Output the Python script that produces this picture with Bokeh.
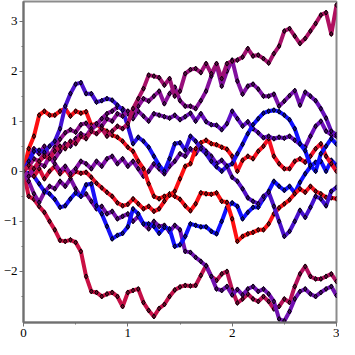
from bokeh.plotting import figure
from bokeh.models import Range1d, FixedTicker
from bokeh.embed import file_html
from bokeh.resources import INLINE

# ---- data ----
T = [0.0, 0.05, 0.1, 0.15, 0.2, 0.25, 0.3, 0.35, 0.4, 0.45,
     0.5, 0.55, 0.6, 0.65, 0.7, 0.75, 0.8, 0.85, 0.9, 0.95,
     1.0, 1.05, 1.1, 1.15, 1.2, 1.25, 1.3, 1.35, 1.4, 1.45,
     1.5, 1.55, 1.6, 1.65, 1.7, 1.75, 1.8, 1.85, 1.9, 1.95,
     2.0, 2.05, 2.1, 2.15, 2.2, 2.25, 2.3, 2.35, 2.4, 2.45,
     2.5, 2.55, 2.6, 2.65, 2.7, 2.75, 2.8, 2.85, 2.9, 2.95, 3.0]

PATH_A = [0, 0.12, 0.05, 0.2, 0.3, 0.25, 0.4, 0.5, 0.45, 0.6,
          0.55, 0.7, 0.65, 0.8, 0.75, 0.85, 0.7, 0.8, 0.9, 0.85,
          0.95, 1.25, 1.45, 1.65, 1.92, 1.9, 1.87, 1.72, 1.85, 1.5,
          1.6, 1.95, 2.03, 2.05, 1.97, 2.15, 1.95, 2.15, 1.85, 2.15,
          2.2, 2.22, 2.28, 2.45, 2.3, 2.32, 2.25, 2.16, 2.35, 2.5,
          2.8, 2.85, 2.7, 2.55, 2.65, 2.8, 2.95, 3.12, 3.17, 2.74, 3.32]
PATH_B = [0, -0.1, 0.05, 0.15, 0.1, 0.3, 0.25, 0.4, 0.55, 0.5,
          0.65, 0.75, 0.7, 0.85, 0.95, 0.9, 1.05, 1.0, 1.15, 1.1,
          1.2, 1.15, 1.3, 1.45, 1.4, 1.5, 1.6, 1.35, 1.55, 1.68,
          1.41, 1.3, 1.3, 1.25, 1.41, 1.6, 1.9, 2.13, 1.7, 2.0,
          2.22, 1.8, 1.54, 1.7, 1.74, 1.64, 1.5, 1.5, 1.54, 1.3,
          1.4, 1.51, 1.61, 1.32, 1.58, 1.5, 1.41, 1.25, 1.06, 0.8, 0.73]
PATH_D = [0, 0.1, 0.25, 0.2, 0.35, 0.3, 0.48, 0.64, 0.77, 0.83,
          0.78, 0.93, 0.96, 0.83, 0.93, 1.05, 1.15, 1.2, 1.28, 1.25,
          1.15, 1.05, 1.2, 1.1, 1.0, 1.15, 1.12, 1.09, 1.06, 1.12,
          1.03, 1.09, 1.16, 1.0, 1.15, 0.99, 0.93, 0.92, 0.83, 0.95,
          1.2, 1.05, 0.9, 0.99, 0.85, 0.77, 0.67, 0.7, 0.65, 0.68,
          0.66, 0.7, 0.62, 0.54, 0.48, 0.7, 0.9, 1.0, 0.8, 0.73, 0.7]
PATH_C = [0, 0.2, 0.4, 0.42, 0.38, 0.5, 0.6, 0.85, 1.3, 1.55,
          1.74, 1.77, 1.55, 1.55, 1.38, 1.41, 1.45, 1.42, 1.32, 1.22,
          0.9, 0.55, 0.68, 0.6, 0.48, 0.3, 0.12, 0.0, 0.25, 0.55,
          0.57, 0.42, 0.7, 0.6, 0.45, 0.35, 0.2, 0.09, 0.0, 0.1,
          0.15, 0.35, 0.54, 0.75, 0.93, 1.05, 1.16, 1.2, 1.22, 1.19,
          1.12, 1.03, 0.85, 0.55, 0.41, 0.12, 0.0, 0.35, 0.5, 0.65, 0.54]
PATH_R = [0, 0.45, 0.7, 1.12, 1.2, 1.12, 1.12, 1.2, 1.25, 1.1,
          1.2, 1.16, 1.19, 0.92, 0.95, 0.85, 0.8, 0.72, 0.68, 0.6,
          0.48, 0.4, 0.2, 0.05, -0.25, -0.5, -0.55, -0.5, -0.48, -0.4,
          -0.15, 0.1, 0.15, 0.45, 0.57, 0.62, 0.55, 0.53, 0.48, 0.44,
          0.3, 0.0, 0.22, 0.3, 0.25, 0.4, 0.5, 0.65, 0.3, 0.15,
          0.05, 0.05, 0.2, 0.25, 0.18, 0.3, 0.45, 0.55, 0.3, 0.15, 0.0]
PATH_G = [0, -0.05, -0.1, -0.25, -0.4, -0.45, -0.56, -0.72, -0.69, -0.55,
          -0.43, -0.5, -0.27, -0.25, -0.69, -0.85, -1.1, -1.35, -1.28, -1.24,
          -1.11, -0.75, -0.85, -1.05, -1.05, -1.1, -1.24, -1.12, -1.15, -1.5,
          -1.47, -1.3, -1.05, -1.08, -1.11, -1.11, -1.2, -1.25, -1.0, -0.72,
          -0.63, -0.7, -0.95, -0.82, -0.72, -0.72, -0.55, -0.4, -0.2, -0.3,
          -0.38, -0.3, -0.43, -0.22, -0.05, 0.09, 0.18, 0.2, 0.0, 0.22, 0.12]
PATH_H = [0, 0.3, 0.45, 0.35, 0.5, 0.3, 0.15, 0.0, 0.1, -0.05,
          0.05, 0.2, 0.15, 0.05, 0.2, 0.1, 0.25, 0.3, 0.15, 0.25,
          0.1, 0.2, 0.05, -0.1, 0.0, 0.15, 0.05, -0.05, 0.1, 0.2,
          0.35, 0.3, 0.45, 0.35, 0.5, 0.4, 0.3, 0.15, 0.22, 0.1,
          -0.12, -0.2, -0.35, -0.53, -0.6, -0.65, -0.5, -0.42, -0.7, -1.0,
          -1.3, -1.2, -1.0, -0.78, -0.92, -0.72, -0.5, -0.55, -0.69, -0.4, -0.32]
PATH_R2 = [0, 0.1, -0.1, 0.05, -0.15, 0.0, 0.1, -0.05, 0.05, -0.1,
           0.0, -0.04, -0.02, -0.12, -0.24, -0.33, -0.42, -0.5, -0.63, -0.69,
           -0.66, -0.55, -0.65, -0.75, -0.7, -0.8, -0.75, -0.6, -0.45, -0.5,
           -0.56, -0.69, -0.79, -0.65, -0.43, -0.45, -0.46, -0.43, -0.6, -0.62,
           -0.95, -1.4, -1.3, -1.25, -1.22, -1.17, -1.17, -1.05, -0.85, -0.73,
           -0.65, -0.57, -0.45, -0.35, -0.42, -0.3, -0.4, -0.45, -0.52, -0.53, -0.55]
PATH_L1 = [0, -0.5, -0.56, -0.7, -0.82, -1.0, -1.17, -1.38, -1.4, -1.37,
           -1.42, -1.6, -2.1, -2.4, -2.42, -2.5, -2.45, -2.42, -2.5, -2.7,
           -2.42, -2.38, -2.35, -2.62, -2.78, -2.9, -2.74, -2.66, -2.5, -2.37,
           -2.31, -2.28, -2.29, -2.28, -2.08, -1.88, -2.1, -2.18, -2.05, -2.0,
           -2.37, -2.63, -2.55, -2.45, -2.55, -2.6, -2.5, -2.6, -2.75, -2.7,
           -2.55, -2.62, -2.3, -2.05, -1.9, -2.1, -2.15, -2.15, -2.1, -2.05, -2.2]
PATH_L2 = [0, -0.2, -0.45, -0.62, -0.42, -0.3, -0.35, -0.2, -0.3, -0.15,
           -0.35, -0.5, -0.45, -0.6, -0.75, -0.7, -0.85, -0.8, -0.95, -0.9,
           -0.85, -1.0, -0.9, -1.05, -1.15, -1.0, -1.1, -1.08, -1.21, -1.08,
           -1.17, -1.6, -1.62, -1.72, -1.8, -1.89, -2.1, -2.35, -2.38, -2.3,
           -2.47, -2.36, -2.47, -2.35, -2.3, -2.4, -2.35, -2.45, -2.6, -2.95,
           -2.99, -2.8, -2.55, -2.4, -2.35, -2.45, -2.5, -2.42, -2.35, -2.3, -2.48]

X_TICKS = [0, 1, 2, 3]
Y_TICKS = [-2, -1, 0, 1, 2, 3]

# ---- style: colour stops along each path (t, colour) ----
PATH_STYLE = [
    (PATH_L1, [(0, "#d01040"), (1.5, "#c0104a"), (3, "#b01060")]),
    (PATH_L2, [(0, "#8010a0"), (1.5, "#7010b0"), (3, "#7010b0")]),
    (PATH_G, [(0, "#2010f0"), (1.5, "#1010ff"), (3, "#1010ff")]),
    (PATH_R2, [(0, "#d01040"), (1, "#f01020"), (2, "#ff1010"), (3, "#f01020")]),
    (PATH_H, [(0, "#9010a0"), (1.5, "#7010b0"), (2.2, "#5010c8"), (3, "#4010d0")]),
    (PATH_R, [(0, "#ff1010"), (1.0, "#f01020"), (1.6, "#ff1010"), (3, "#f01030")]),
    (PATH_D, [(0, "#a01080"), (1, "#8010a0"), (2, "#6010c8"), (3, "#7010b8")]),
    (PATH_C, [(0, "#2010f0"), (0.5, "#5010c8"), (1.0, "#3010e0"), (1.3, "#1010ff"),
              (1.7, "#4010d0"), (2.2, "#1010ff"), (3, "#1010ff")]),
    (PATH_B, [(0, "#9010a0"), (1.5, "#8a1096"), (2.5, "#7a10a8"), (3, "#6010c0")]),
    (PATH_A, [(0, "#c8104a"), (1.0, "#b0105e"), (1.5, "#98107a"), (2.2, "#a0106e"), (3, "#b0105e")]),
]


def _rgb(h):
    return tuple(int(h[i:i + 2], 16) for i in (1, 3, 5))


def colour_at(stops, t):
    for (t0, c0), (t1, c1) in zip(stops[:-1], stops[1:]):
        if t0 <= t <= t1:
            f = (t - t0) / (t1 - t0) if t1 > t0 else 0
            a, b = _rgb(c0), _rgb(c1)
            return "#%02x%02x%02x" % tuple(round(a[k] + f * (b[k] - a[k])) for k in range(3))
    return stops[-1][1]


p = figure(width=339, height=339, output_backend="svg", toolbar_location=None,
           x_range=Range1d(0, 3), y_range=Range1d(-3.02, 3.39),
           min_border_left=21, min_border_right=3, min_border_top=1, min_border_bottom=2)
p.xgrid.visible = False
p.ygrid.visible = False
p.background_fill_color = "white"
p.border_fill_color = "white"
p.outline_line_color = "#8c8c8c"
p.outline_line_width = 2

for vals, stops in PATH_STYLE:
    x0 = T[:-1]
    x1 = T[1:]
    y0 = vals[:-1]
    y1 = vals[1:]
    cols = [colour_at(stops, (a + b) / 2) for a, b in zip(x0, x1)]
    p.segment(x0=x0, y0=y0, x1=x1, y1=y1, line_color=cols, line_width=4, line_cap="round")
    p.scatter(T, vals, marker="diamond", size=5, line_color="black", line_width=1,
              fill_color="black", fill_alpha=0.4)

for ax in (p.xaxis[0], p.yaxis[0]):
    ax.axis_line_color = "#707070"
    ax.axis_line_width = 2
    ax.major_tick_line_color = "#707070"
    ax.minor_tick_line_color = "#707070"
    ax.major_tick_out = 4
    ax.major_tick_in = 0
    ax.minor_tick_out = 2
    ax.minor_tick_in = 0
    ax.major_label_text_font = "Liberation Serif"
    ax.major_label_text_font_size = "13px"
    ax.major_label_text_color = "black"
    ax.major_label_standoff = 2

p.xaxis[0].ticker = FixedTicker(ticks=X_TICKS, minor_ticks=[0.5, 1.5, 2.5])
p.yaxis[0].ticker = FixedTicker(ticks=Y_TICKS, minor_ticks=[-2.5, -1.5, -0.5, 0.5, 1.5, 2.5])
p.yaxis[0].major_label_overrides = {v: (("\u2212" + str(-v)) if v < 0 else str(v)) for v in Y_TICKS}

open("out.html", "w").write(file_html(p, INLINE))
